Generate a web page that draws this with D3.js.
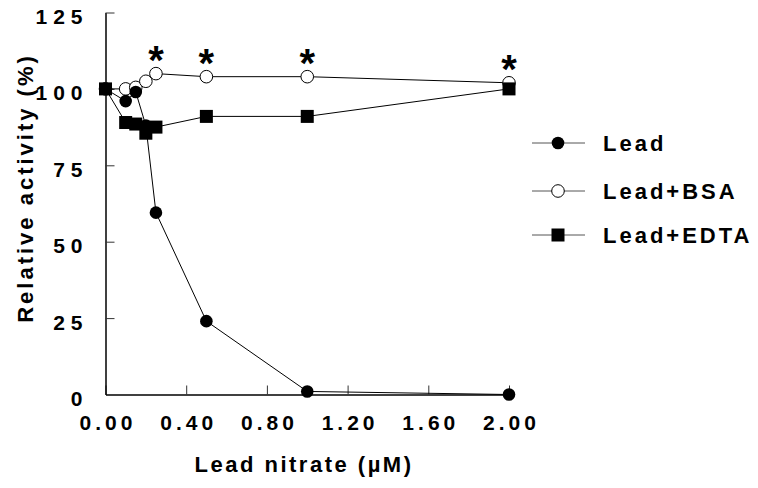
<!DOCTYPE html>
<html>
<head>
<meta charset="utf-8">
<script src="https://cdn.jsdelivr.net/npm/d3@7"></script>
<style>
  body { margin: 0; background: #fff; }
  svg { display: block; font-family: Arial, "Liberation Sans", sans-serif; font-weight: bold; }
</style>
</head>
<body>
<svg id="chart" width="758" height="488"></svg>
<script>
const doses = [0, 0.1, 0.15, 0.2, 0.25, 0.5, 1.0, 2.0];
const lead = [100, 96, 99, 88, 59.5, 24, 1, 0];
const leadBsa = [100, 100, 100.5, 102.5, 105, 104, 104, 102];
const leadEdta = [100, 89, 88.5, 85.5, 87.5, 91, 91, 100];
const starDoses = [0.25, 0.5, 1.0, 2.0];
const xTicks = [0, 0.4, 0.8, 1.2, 1.6, 2.0];
const yTicks = [0, 25, 50, 75, 100, 125];

const svg = d3.select("#chart");

const x = d3.scaleLinear().domain([0, 2]).range([105.5, 509]);
const y = d3.scaleLinear().domain([0, 125]).range([394.5, 12.5]);

// axes
const gx = svg.append("g").attr("transform", `translate(0,${y(0)})`)
    .call(d3.axisBottom(x).tickValues(xTicks).tickFormat(d3.format(".2f"))
        .tickSizeInner(-9).tickSizeOuter(0).tickPadding(21));
const gy = svg.append("g").attr("transform", `translate(${x(0)},0)`)
    .call(d3.axisLeft(y).tickValues(yTicks).tickFormat(d3.format("d"))
        .tickSizeInner(-9).tickSizeOuter(0).tickPadding(23));

[gx, gy].forEach(g => {
    g.select(".domain").attr("stroke", "#000").attr("stroke-width", 1.5);
    g.selectAll(".tick line").attr("stroke", "#333");
    g.selectAll(".tick text")
        .attr("fill", "#000")
        .style("font-size", "21px")
        .style("font-family", "Arial, 'Liberation Sans', sans-serif")
        .style("font-weight", "bold");
});
gx.selectAll(".tick text").attr("dx", "2px").style("letter-spacing", "4px");
gy.selectAll(".tick text").attr("dy", "0.52em").attr("dx", "6px").style("letter-spacing", "6px");
gy.selectAll(".tick").filter(d => d === 0).select("line").remove();

// axis titles
svg.append("text")
    .attr("x", 304).attr("y", 472)
    .attr("text-anchor", "middle")
    .style("font-size", "22px").style("letter-spacing", "2.5px")
    .text("Lead nitrate (µM)");

svg.append("text")
    .attr("transform", "translate(33,188) rotate(-90)")
    .attr("text-anchor", "middle")
    .style("font-size", "22px").style("letter-spacing", "3px")
    .text("Relative activity (%)");

// series
const line = d3.line().x((d, i) => x(doses[i])).y(d => y(d));

const series = [
    { name: "Lead+BSA", values: leadBsa, marker: "openCircle" },
    { name: "Lead", values: lead, marker: "circle" },
    { name: "Lead+EDTA", values: leadEdta, marker: "square" }
];

function drawMarker(g, type) {
    if (type === "square") {
        g.append("rect").attr("x", -6.5).attr("y", -6.5).attr("width", 13).attr("height", 13)
            .attr("fill", "#000");
    } else if (type === "circle") {
        g.append("circle").attr("r", 6.3).attr("fill", "#000");
    } else {
        g.append("circle").attr("r", 6.3).attr("fill", "#fff")
            .attr("stroke", "#000").attr("stroke-width", 1);
    }
}

series.forEach(s => {
    svg.append("path")
        .attr("d", line(s.values))
        .attr("fill", "none")
        .attr("stroke", "#000")
        .attr("stroke-width", 1);
});

series.forEach(s => {
    svg.append("g").selectAll("g")
        .data(s.values)
        .enter()
        .append("g")
        .attr("transform", (d, i) => `translate(${x(doses[i])},${y(d)})`)
        .each(function () { drawMarker(d3.select(this), s.marker); });
});

// significance stars above BSA points
svg.append("g").selectAll("text")
    .data(starDoses)
    .enter()
    .append("text")
    .attr("x", d => x(d))
    .attr("y", d => y(leadBsa[doses.indexOf(d)]) + 0.5)
    .attr("text-anchor", "middle")
    .style("font-size", "40px")
    .text("*");

// legend
const legend = svg.append("g");
const legendRows = [
    { name: "Lead", marker: "circle", y: 143 },
    { name: "Lead+BSA", marker: "openCircle", y: 191 },
    { name: "Lead+EDTA", marker: "square", y: 235 }
];
legendRows.forEach(r => {
    legend.append("line")
        .attr("x1", 532).attr("x2", 585)
        .attr("y1", r.y).attr("y2", r.y)
        .attr("stroke", "#555").attr("stroke-width", 1);
    const m = legend.append("g").attr("transform", `translate(558,${r.y})`);
    drawMarker(m, r.marker);
    legend.append("text")
        .attr("x", 603).attr("y", r.y + 8)
        .style("font-size", "22px").style("letter-spacing", "3px")
        .text(r.name);
});
</script>
</body>
</html>
